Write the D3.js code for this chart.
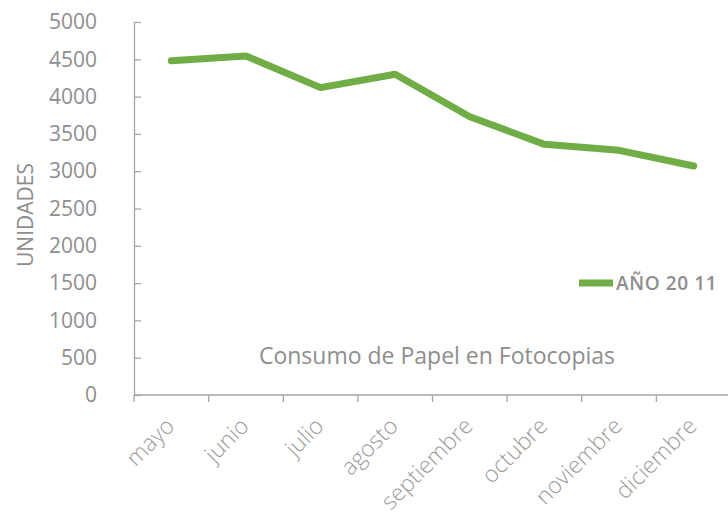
<!DOCTYPE html>
<html>
<head>
<meta charset="utf-8">
<script src="https://cdn.jsdelivr.net/npm/d3@7"></script>
<style>
  body { margin: 0; background: #ffffff; }
  svg { display: block; font-family: 'Open Sans', sans-serif; }
</style>
</head>
<body>
<script>
// data
var months = ['mayo', 'junio', 'julio', 'agosto', 'septiembre', 'octubre', 'noviembre', 'diciembre'],
	units = [4480, 4545, 4120, 4300, 3730, 3360, 3280, 3070],
	yTicks = [0, 500, 1000, 1500, 2000, 2500, 3000, 3500, 4000, 4500, 5000],
	seriesName = 'AÑO 20 11',
	title = 'Consumo de Papel en Fotocopias';

// layout
var width = 728, height = 515,
	plotLeft = 134, plotRight = 731, plotTop = 22, plotBottom = 395,
	green = '#70ad47', grey = '#8e8e8e', lightGrey = '#9c9c9c', axisGrey = '#a6a6a6';

var svg = d3.select('body').append('svg')
	.attr('width', width)
	.attr('height', height);

var x = d3.scaleBand().domain(months).range([plotLeft, plotRight]),
	y = d3.scaleLinear().domain([0, 5000]).range([plotBottom, plotTop]);

// y axis
var yAxis = svg.append('g')
	.attr('transform', 'translate(' + plotLeft + ',0)')
	.call(d3.axisLeft(y).tickValues(yTicks).tickFormat(d3.format('d'))
		.tickSize(-7).tickPadding(37).tickSizeOuter(0));
yAxis.select('.domain').attr('stroke', axisGrey).attr('stroke-width', 1.3);
yAxis.selectAll('.tick line').attr('stroke', axisGrey).attr('stroke-width', 1.3);
yAxis.selectAll('.tick text')
	.attr('fill', grey)
	.style('font-size', '21px')
	.style('font-family', "'Open Sans', sans-serif");

// x axis line and ticks at band edges
svg.append('line')
	.attr('x1', plotLeft).attr('x2', plotRight)
	.attr('y1', plotBottom).attr('y2', plotBottom)
	.attr('stroke', axisGrey).attr('stroke-width', 1.3);
svg.selectAll('.xtick')
	.data(months.map(function(m) { return x(m); }).concat([x.range()[1]]))
  .enter().append('line')
	.attr('class', 'xtick')
	.attr('x1', function(d) { return d; }).attr('x2', function(d) { return d; })
	.attr('y1', plotBottom).attr('y2', plotBottom + 7)
	.attr('stroke', axisGrey).attr('stroke-width', 1.3);

// x labels, rotated
svg.selectAll('.xlabel')
	.data(months)
  .enter().append('text')
	.attr('class', 'xlabel')
	.attr('transform', function(d) {
		return 'translate(' + (x(d) + x.bandwidth() / 2 - 7) + ',' + (plotBottom + 21) + ') rotate(-45)';
	})
	.attr('text-anchor', 'end')
	.attr('dy', '0.7em')
	.attr('fill', lightGrey)
	.style('font-size', '23px')
	.style('font-weight', 300)
	.text(function(d) { return d; });

// y axis title
svg.append('text')
	.attr('transform', 'translate(33,215) rotate(-90)')
	.attr('text-anchor', 'middle')
	.attr('fill', grey)
	.style('font-size', '21px')
	.text('UNIDADES');

// line
var line = d3.line()
	.x(function(d, i) { return x(months[i]) + x.bandwidth() / 2; })
	.y(function(d) { return y(d); });

svg.append('path')
	.datum(units)
	.attr('d', line)
	.attr('fill', 'none')
	.attr('stroke', green)
	.attr('stroke-width', 7)
	.attr('stroke-linecap', 'round')
	.attr('stroke-linejoin', 'round');

// legend
svg.append('line')
	.attr('x1', 579).attr('x2', 613)
	.attr('y1', 283).attr('y2', 283)
	.attr('stroke', green).attr('stroke-width', 7);
svg.append('text')
	.attr('x', 616).attr('y', 290)
	.attr('fill', grey)
	.style('font-size', '19px')
	.style('font-weight', 600)
	.style('letter-spacing', '0.6px')
	.text(seriesName);

// chart title
svg.append('text')
	.attr('x', 437).attr('y', 364)
	.attr('text-anchor', 'middle')
	.attr('fill', grey)
	.style('font-size', '23px')
	.text(title);
</script>
</body>
</html>
